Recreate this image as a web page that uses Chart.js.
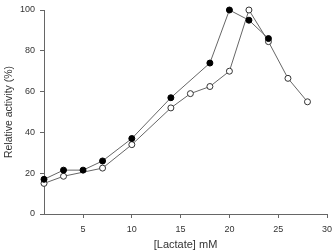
<!DOCTYPE html>
<html>
<head>
<meta charset="utf-8">
<script src="https://cdn.jsdelivr.net/npm/chart.js@4/dist/chart.umd.min.js"></script>
<style>
  html, body { margin: 0; padding: 0; background: #fff; }
  #wrap { width: 332px; height: 252px; }
</style>
</head>
<body>
<div id="wrap"><canvas id="chart" width="332" height="252"></canvas></div>
<script>
// lactate concentrations (mM) and relative activity (%)
const filledX = [1, 3, 5, 7, 10, 14, 18, 20, 22, 24];
const filledY = [17, 21.5, 21.5, 26, 37, 57, 74, 100, 95, 86];
const openX = [1, 3, 7, 10, 14, 16, 18, 20, 22, 24, 26, 28];
const openY = [15, 18.5, 22.5, 34, 52, 59, 62.5, 70, 100, 84.5, 66.5, 55];
const xTicks = [5, 10, 15, 20, 25, 30];
const yTicks = [0, 20, 40, 60, 80, 100];

const toPoints = (xs, ys) => xs.map((x, i) => ({ x: x, y: ys[i] }));

const axisColor = '#666';
const textColor = '#333';

new Chart(document.getElementById('chart'), {
  type: 'scatter',
  data: {
    datasets: [
      {
        label: 'filled',
        data: toPoints(filledX, filledY),
        showLine: true,
        clip: false,
        borderColor: '#666',
        borderWidth: 1,
        pointBackgroundColor: '#000',
        pointBorderColor: '#000',
        pointBorderWidth: 1,
        pointRadius: 3,
      },
      {
        label: 'open',
        data: toPoints(openX, openY),
        showLine: true,
        clip: false,
        borderColor: '#666',
        borderWidth: 1,
        pointBackgroundColor: '#fff',
        pointBorderColor: '#333',
        pointBorderWidth: 1,
        pointRadius: 3,
      },
    ],
  },
  options: {
    responsive: false,
    animation: false,
    layout: { padding: { left: 0, right: 3, top: 10, bottom: 0 } },
    plugins: { legend: { display: false }, tooltip: { enabled: false } },
    scales: {
      x: {
        type: 'linear',
        min: 1,
        max: 30,
        afterBuildTicks: (scale) => { scale.ticks = xTicks.map(v => ({ value: v })); },
        afterFit: (scale) => { scale.height = 38; scale.paddingLeft = 0; scale.paddingRight = 0; },
        grid: { drawOnChartArea: false, tickLength: 4, color: axisColor },
        border: { color: axisColor, width: 1 },
        ticks: { color: textColor, font: { family: 'Liberation Sans', size: 9 }, padding: 6, maxRotation: 0 },
        title: { display: true, text: '[Lactate] mM', color: textColor, font: { family: 'Liberation Sans', size: 11 }, padding: { top: 3, bottom: 0 } },
      },
      y: {
        min: 0,
        max: 100,
        afterBuildTicks: (scale) => { scale.ticks = yTicks.map(v => ({ value: v })); },
        afterFit: (scale) => { scale.width = 44; scale.paddingTop = 0; scale.paddingBottom = 0; },
        grid: { drawOnChartArea: false, tickLength: 4, color: axisColor },
        border: { color: axisColor, width: 1 },
        ticks: { color: textColor, font: { family: 'Liberation Sans', size: 9 }, padding: 5 },
        title: { display: true, text: 'Relative activity (%)', color: textColor, font: { family: 'Liberation Sans', size: 10.5 }, padding: { top: 3, bottom: 0 } },
      },
    },
  },
});
</script>
</body>
</html>
